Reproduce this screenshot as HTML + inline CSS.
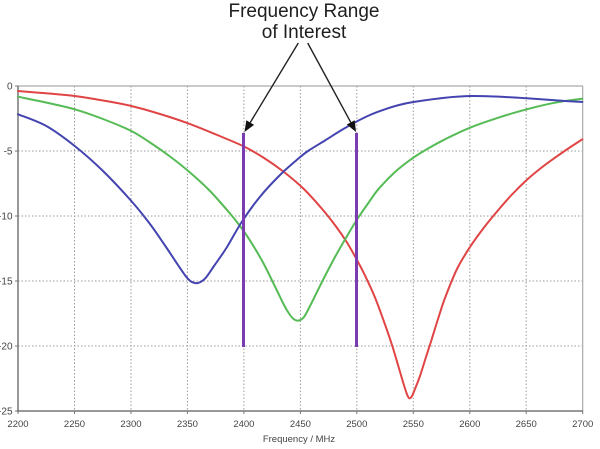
<!DOCTYPE html>
<html><head><meta charset="utf-8"><style>
html,body{margin:0;padding:0;background:#fff;}
svg{display:block;}
text{font-family:"Liberation Sans",Arial,sans-serif;}
</style></head><body>
<svg id="chart" width="600" height="449" viewBox="0 0 600 449" xmlns="http://www.w3.org/2000/svg">
<rect width="600" height="449" fill="#fff"/>
<!-- grid -->
<g stroke="#9a9a9a" stroke-width="1" stroke-dasharray="1.5 2" fill="none">
<line x1="74.5" y1="86" x2="74.5" y2="411"/>
<line x1="131" y1="86" x2="131" y2="411"/>
<line x1="187.4" y1="86" x2="187.4" y2="411"/>
<line x1="243.9" y1="86" x2="243.9" y2="411"/>
<line x1="300.4" y1="86" x2="300.4" y2="411"/>
<line x1="356.8" y1="86" x2="356.8" y2="411"/>
<line x1="413.3" y1="86" x2="413.3" y2="411"/>
<line x1="469.8" y1="86" x2="469.8" y2="411"/>
<line x1="526.2" y1="86" x2="526.2" y2="411"/>
<line x1="18" y1="151" x2="583" y2="151"/>
<line x1="18" y1="216" x2="583" y2="216"/>
<line x1="18" y1="281" x2="583" y2="281"/>
<line x1="18" y1="346" x2="583" y2="346"/>
</g>
<!-- frame -->
<line x1="18" y1="86" x2="583" y2="86" stroke="#aaa" stroke-width="1.2"/>
<line x1="582.7" y1="86" x2="582.7" y2="411" stroke="#aaa" stroke-width="1.2"/>
<line x1="18" y1="86" x2="18" y2="412" stroke="#777" stroke-width="1.5"/>
<line x1="17" y1="411" x2="583" y2="411" stroke="#777" stroke-width="1.5"/>
<g stroke="#777" stroke-width="1">
<line x1="18" y1="411" x2="18" y2="414"/><line x1="74.5" y1="411" x2="74.5" y2="414"/><line x1="131" y1="411" x2="131" y2="414"/><line x1="187.4" y1="411" x2="187.4" y2="414"/><line x1="243.9" y1="411" x2="243.9" y2="414"/><line x1="300.4" y1="411" x2="300.4" y2="414"/><line x1="356.8" y1="411" x2="356.8" y2="414"/><line x1="413.3" y1="411" x2="413.3" y2="414"/><line x1="469.8" y1="411" x2="469.8" y2="414"/><line x1="526.2" y1="411" x2="526.2" y2="414"/><line x1="582.7" y1="411" x2="582.7" y2="414"/>
<line x1="15" y1="86" x2="18" y2="86"/><line x1="15" y1="151" x2="18" y2="151"/><line x1="15" y1="216" x2="18" y2="216"/><line x1="15" y1="281" x2="18" y2="281"/><line x1="15" y1="346" x2="18" y2="346"/><line x1="15" y1="411" x2="18" y2="411"/>
</g>
<!-- y labels -->
<g font-size="10" fill="#444" text-anchor="end">
<text x="12.5" y="89.5">0</text>
<text x="12.5" y="154.5">-5</text>
<text x="12.5" y="219.5">-10</text>
<text x="12.5" y="284.5">-15</text>
<text x="12.5" y="349.5">-20</text>
<text x="12.5" y="414.5">-25</text>
</g>
<!-- x labels -->
<g font-size="9.5" fill="#444" text-anchor="middle">
<text x="18" y="427">2200</text>
<text x="74.5" y="427">2250</text>
<text x="131" y="427">2300</text>
<text x="187.4" y="427">2350</text>
<text x="243.9" y="427">2400</text>
<text x="300.4" y="427">2450</text>
<text x="356.8" y="427">2500</text>
<text x="413.3" y="427">2550</text>
<text x="469.8" y="427">2600</text>
<text x="526.2" y="427">2650</text>
<text x="582.7" y="427">2700</text>
</g>
<text x="299" y="442" font-size="9.5" fill="#444" text-anchor="middle">Frequency / MHz</text>
<!-- curves -->
<g fill="none" stroke-width="2" stroke-linejoin="round" stroke-linecap="round">
<polyline class="sm" stroke="#e04444" points="18,91 46,93.3 74.7,96 103,100.5 131.3,106 160,114 188,123.3 216,134.5 244,146.5 263.3,157.5 283.3,171.5 303.3,188.5 321.7,208.5 336,226.5 347,242.5 356.7,259.5 365,275.5 375,297.5 385,324.5 392,345 398.3,366 403,382 406.5,393 409.2,398.3 412,396 415,389 420,376 426,357 431.7,339.3 438,319 445,298 457,269 470,247 484,227.5 498.3,210 512,194.5 526.7,180 541,168 555,157.7 569,148 582.3,139.3"/>
<polyline class="sm" stroke="#55bb55" points="18,96.7 46,102.5 74.7,109.3 103,119 131.3,131 150,142.5 170,156.5 190,172.5 210,191 230,213.5 240,226 250,240.5 263.3,263 276.7,290 284,305 289,313.5 293,318.5 296.5,320.5 300,320.2 304,317 309,308 316,294 325,276 335,257 345,239.5 356.7,220 368,203.5 378.3,189.3 395,172 413.3,157.7 429,148 445,139.3 470,127.7 498.3,117.7 526.7,109.3 555,102.7 582.3,98.7"/>
<polyline class="sm" stroke="#4444b0" points="18,114.3 46.3,126 74.7,146 103,171 131.3,201 150,224 165,245.5 178,265 186,276.5 191,281.5 196,283.2 201,281.8 206,277.5 214,266 226.7,247.5 241.7,222 260,196.7 280,175 296.7,160 308,151 325,140.5 340,131 356.7,121.5 370,115 385,109.3 399,105 413.3,102 445,97.7 470,96 495,96.5 526.7,98.3 561.7,100.8 582.3,102"/>
</g>
<!-- purple markers -->
<g stroke="#7a3cb0" stroke-width="3">
<line x1="243.5" y1="133" x2="243.5" y2="347"/>
<line x1="356.5" y1="133" x2="356.5" y2="347"/>
</g>
<!-- arrows -->
<g stroke="#222" stroke-width="1.4">
<line x1="298.3" y1="43" x2="250.2" y2="122.6"/>
<line x1="307.7" y1="43" x2="350.75" y2="122.3"/>
</g>
<polygon fill="#111" points="254.05,124.9 246.35,120.3 244.5,132"/>
<polygon fill="#111" points="354.7,120.2 346.8,124.5 356,132"/>
<!-- title -->
<g font-size="19" fill="#1e1e1e" text-anchor="middle">
<text x="304" y="17">Frequency Range</text>
<text x="304" y="38">of Interest</text>
</g>
</svg>
<script>
(function(){
  var NS="http://www.w3.org/2000/svg";
  var pls=document.querySelectorAll("polyline.sm");
  for(var k=0;k<pls.length;k++){
    var pl=pls[k];
    var raw=pl.getAttribute("points").trim().split(/\s+/).map(function(s){var a=s.split(",");return [parseFloat(a[0]),parseFloat(a[1])];});
    var d="M"+raw[0][0]+","+raw[0][1];
    for(var i=0;i<raw.length-1;i++){
      var p0=raw[i>0?i-1:i],p1=raw[i],p2=raw[i+1],p3=raw[i+2<raw.length?i+2:i+1];
      var c1x=p1[0]+(p2[0]-p0[0])/6,c1y=p1[1]+(p2[1]-p0[1])/6;
      var c2x=p2[0]-(p3[0]-p1[0])/6,c2y=p2[1]-(p3[1]-p1[1])/6;
      d+=" C"+c1x.toFixed(2)+","+c1y.toFixed(2)+" "+c2x.toFixed(2)+","+c2y.toFixed(2)+" "+p2[0]+","+p2[1];
    }
    var path=document.createElementNS(NS,"path");
    path.setAttribute("d",d);
    path.setAttribute("stroke",pl.getAttribute("stroke"));
    pl.parentNode.replaceChild(path,pl);
  }
})();
</script>
</body></html>
